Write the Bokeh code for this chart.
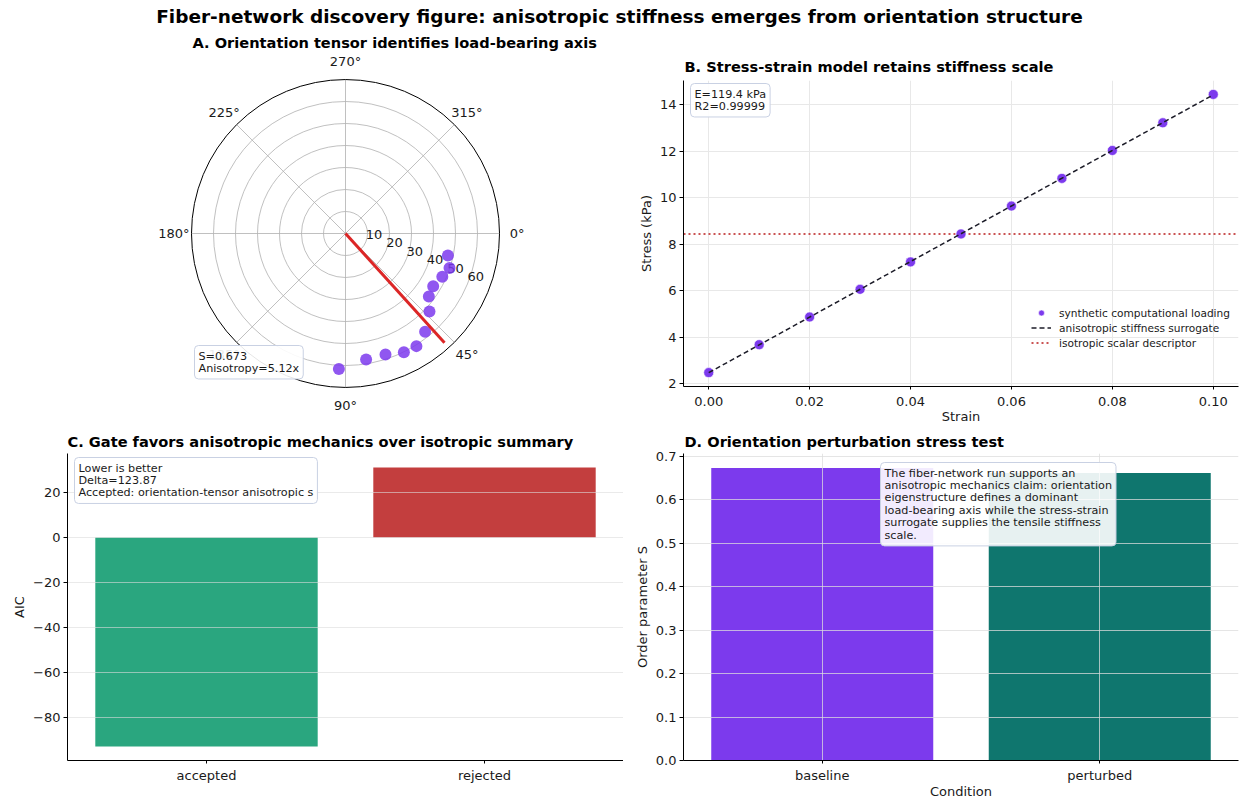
import numpy as np
from bokeh.plotting import figure
from bokeh.models import (Range1d, FixedTicker, Label, Legend, LegendItem, Div,
                          FactorRange, NumeralTickFormatter, CustomJSTickFormatter)
from bokeh.layouts import column, row
from bokeh.embed import file_html
from bokeh.resources import INLINE
from bokeh.core.properties import value

FONT = "DejaVu Sans"

# ---------------- data ----------------
# Panel A: orientation samples (theta in degrees, clockwise from east) and radii
polar_theta_deg = [12.1, 18.3, 24.1, 31.0, 37.1, 42.9, 51.0, 57.8, 63.8, 71.7, 80.7, 92.8]
polar_r = [47.6, 49.8, 48.2, 46.5, 47.5, 52.1, 57.5, 60.5, 60.1, 57.9, 58.0, 61.7]
principal_angle_deg = 47.8
principal_length = 67.0
r_ticks = [10, 20, 30, 40, 50, 60]
r_max = 70
theta_ticks = [0, 45, 90, 135, 180, 225, 270, 315]
order_S = 0.673
anisotropy_ratio = 5.12

# Panel B: stress-strain
strain = [0.00, 0.01, 0.02, 0.03, 0.04, 0.05, 0.06, 0.07, 0.08, 0.09, 0.10]
stress = [2.49, 3.69, 4.88, 6.07, 7.25, 8.45, 9.65, 10.84, 12.04, 13.23, 14.45]
E_kpa = 119.4
r2_value = 0.99999
iso_level = 8.45
stress_ticks = [2, 4, 6, 8, 10, 12, 14]
strain_ticks = [0.00, 0.02, 0.04, 0.06, 0.08, 0.10]

# Panel C: AIC gate
gate_models = ["accepted", "rejected"]
gate_aic = [-92.75, 31.12]
gate_colors = ["#059669", "#b91c1c"]
aic_delta = 123.87
aic_ticks = [-80, -60, -40, -20, 0, 20]

# Panel D: perturbation
conditions = ["baseline", "perturbed"]
order_param = [0.673, 0.662]
cond_colors = ["#7c3aed", "#0f766e"]
s_ticks = [0.0, 0.1, 0.2, 0.3, 0.4, 0.5, 0.6, 0.7]

TICK_PX = "13px"
TITLE_PX = "14.6px"
NOTE_PX = "11.2px"
LEGEND_PX = "10.6px"


def style_axes(p):
    for ax in list(p.xaxis) + list(p.yaxis):
        ax.axis_line_color = "black"
        ax.axis_line_width = 1
        ax.major_tick_line_color = "black"
        ax.major_tick_out = 4
        ax.major_tick_in = 0
        ax.minor_tick_line_color = None
        ax.major_label_text_font = FONT
        ax.major_label_text_font_size = TICK_PX
        ax.major_label_text_color = "#1a1a1a"
        ax.axis_label_text_font = FONT
        ax.axis_label_text_font_size = TICK_PX
        ax.axis_label_text_font_style = "normal"
        ax.axis_label_text_color = "#1a1a1a"
        ax.major_label_standoff = 3
        ax.axis_label_standoff = 3
    for ax in p.xaxis:
        ax.major_tick_out = 3
        ax.major_label_standoff = 4
        ax.axis_label_standoff = -2
    p.outline_line_color = None


def style_title(p, text, offset=0, standoff=5):
    p.title.text = text
    p.title.align = "left"
    p.title.offset = offset
    p.title.text_font = FONT
    p.title.text_font_size = TITLE_PX
    p.title.text_font_style = "bold"
    p.title.text_color = "black"
    p.title.standoff = standoff


def note(x, y, text):
    return Label(x=x, y=y, x_units="screen", y_units="screen", text=text,
                 anchor="top_left", text_font=FONT, text_font_size=NOTE_PX,
                 text_line_height=0.96, text_color="#1a1a1a", padding=4,
                 background_fill_color="white", background_fill_alpha=0.9,
                 border_line_color="#c9d1e3", border_line_width=1, border_radius=4)


TITLE_H = 28
ROW1_H = 398
ROW2_H = 375

# ---------------- Panel A (polar) ----------------
WA = 623
topA = 22
frameA_h = ROW1_H - topA
px_per_unit = 154.0 / r_max
cx_px, cy_px = 345, 183  # centre inside the frame (from left / from top)
pA = figure(width=WA, height=ROW1_H, output_backend="svg", toolbar_location=None,
            x_range=Range1d(-cx_px / px_per_unit, (WA - cx_px) / px_per_unit),
            y_range=Range1d(-(frameA_h - cy_px) / px_per_unit, cy_px / px_per_unit),
            x_axis_type=None, y_axis_type=None,
            min_border_left=0, min_border_right=0, min_border_top=topA, min_border_bottom=0)
pA.frame_align = False
pA.outline_line_color = None
style_title(pA, "A. Orientation tensor identifies load-bearing axis", offset=192, standoff=0)

rt = np.array(r_ticks, dtype=float)
pA.circle(x=np.zeros_like(rt), y=np.zeros_like(rt), radius=rt, fill_color=None,
          line_color="#b0b0b0", line_width=0.8)
th = np.deg2rad(np.array(theta_ticks, dtype=float))
pA.segment(x0=np.zeros_like(th), y0=np.zeros_like(th),
           x1=r_max * np.cos(th), y1=-r_max * np.sin(th),
           line_color="#b0b0b0", line_width=0.8)
pA.circle(x=[0], y=[0], radius=r_max, fill_color=None, line_color="black", line_width=1)

# angle labels
lab_r = r_max * 1.115
pA.text(x=lab_r * np.cos(th), y=-lab_r * np.sin(th), text=[f"{t}°" for t in theta_ticks],
        text_align="center", text_baseline="middle", text_font=value(FONT),
        text_font_size=TICK_PX, text_color="#1a1a1a")
# radial labels at 22.5 deg
rl = np.deg2rad(22.5)
pA.text(x=rt * np.cos(rl), y=-rt * np.sin(rl), text=[str(v) for v in r_ticks],
        text_align="left", text_baseline="bottom", y_offset=-3, text_font=value(FONT),
        text_font_size=TICK_PX, text_color="#1a1a1a")

pth = np.deg2rad(np.array(polar_theta_deg))
pr = np.array(polar_r)
pA.scatter(x=pr * np.cos(pth), y=-pr * np.sin(pth), size=12, fill_color="#7c3aed",
           fill_alpha=0.85, line_color=None)
pa = np.deg2rad(principal_angle_deg)
pA.line(x=[0, principal_length * np.cos(pa)], y=[0, -principal_length * np.sin(pa)],
        line_color="#dc2626", line_width=3)
pA.add_layout(note(194, 81, f"S={order_S:.3f}\nAnisotropy={anisotropy_ratio:.2f}x"))

# ---------------- Panel B ----------------
sx = np.array(strain)
sy = np.array(stress)
xpad = 0.05 * (sx.max() - sx.min())
ypad = 0.05 * (sy.max() - sy.min())
x_lo, x_hi = sx.min() - xpad, sx.max() + xpad
pB = figure(width=616, height=ROW1_H, output_backend="svg", toolbar_location=None,
            x_range=Range1d(x_lo, x_hi),
            y_range=Range1d(sy.min() - ypad, sy.max() + ypad),
            min_border_left=60, min_border_right=1, min_border_top=52, min_border_bottom=40)
pB.frame_align = False
style_title(pB, "B. Stress-strain model retains stiffness scale", offset=1, standoff=11)
style_axes(pB)
pB.xaxis.major_label_standoff = 7
pB.xaxis.axis_label_standoff = 0
pB.xaxis.ticker = FixedTicker(ticks=strain_ticks)
pB.xaxis.formatter = NumeralTickFormatter(format="0.00")
pB.yaxis.ticker = FixedTicker(ticks=stress_ticks)
pB.xaxis.axis_label = "Strain"
pB.yaxis.axis_label = "Stress (kPa)"
pB.xgrid.grid_line_color = "#e8e8e8"
pB.ygrid.grid_line_color = "#e8e8e8"
pB.xgrid.ticker = FixedTicker(ticks=strain_ticks)
pB.ygrid.ticker = FixedTicker(ticks=stress_ticks)

r_iso = pB.line(x=[x_lo, x_hi], y=[iso_level, iso_level], line_color="#b91c1c",
                line_width=1.5, line_dash="2 3")
r_pts = pB.scatter(sx, sy, size=10, fill_color="#7c3aed", line_color="white", line_width=0.6)
slope, intercept = np.polyfit(sx, sy, 1)
fx = np.array([sx.min(), sx.max()])
r_fit = pB.line(fx, slope * fx + intercept, line_color="#1c1c28", line_width=1.5, line_dash="5 3")
legB = Legend(items=[LegendItem(label="synthetic computational loading", renderers=[r_pts]),
                     LegendItem(label="anisotropic stiffness surrogate", renderers=[r_fit]),
                     LegendItem(label="isotropic scalar descriptor", renderers=[r_iso])],
              location=(348, 36), label_text_font=FONT, label_text_font_size=LEGEND_PX,
              label_text_color="#1a1a1a", glyph_height=15, glyph_width=20, label_height=15,
              label_standoff=8, spacing=0, padding=0, margin=0,
              border_line_color=None, background_fill_alpha=0)
pB.add_layout(legB)
pB.add_layout(note(7, 303, f"E={E_kpa:.1f} kPa\nR2={r2_value:.5f}"))

# ---------------- Panel C ----------------
aic = np.array(gate_aic)
apad = 0.05 * (aic.max() - aic.min())
pC = figure(width=623, height=ROW2_H, output_backend="svg", toolbar_location=None,
            x_range=FactorRange(*gate_models),
            y_range=Range1d(aic.min() - apad, aic.max() + apad),
            min_border_left=67, min_border_right=0, min_border_top=27, min_border_bottom=41)
style_title(pC, "C. Gate favors anisotropic mechanics over isotropic summary", offset=0, standoff=7)
style_axes(pC)
pC.vbar(x=gate_models, top=gate_aic, bottom=0, width=0.8, fill_color=gate_colors,
        fill_alpha=0.85, line_color=None)
pC.xgrid.visible = False
pC.ygrid.grid_line_color = "#dcdcdc"
pC.ygrid.grid_line_alpha = 0.6
pC.ygrid.level = "glyph"
pC.ygrid.ticker = FixedTicker(ticks=aic_ticks)
pC.yaxis.ticker = FixedTicker(ticks=aic_ticks)
pC.yaxis.formatter = CustomJSTickFormatter(code="return tick < 0 ? '\\u2212' + (-tick) : '' + tick;")
pC.yaxis.axis_label = "AIC"
pC.add_layout(note(7, 303, f"Lower is better\nDelta={aic_delta:.2f}\nAccepted: orientation-tensor anisotropic s"))

# ---------------- Panel D ----------------
pD = figure(width=616, height=ROW2_H, output_backend="svg", toolbar_location=None,
            x_range=FactorRange(*conditions),
            y_range=Range1d(0, max(order_param) * 1.05),
            min_border_left=60, min_border_right=1, min_border_top=27, min_border_bottom=41)
style_title(pD, "D. Orientation perturbation stress test", offset=1, standoff=7)
style_axes(pD)
pD.vbar(x=conditions, top=order_param, bottom=0, width=0.8, fill_color=cond_colors,
        line_color=None)
pD.yaxis.ticker = FixedTicker(ticks=s_ticks)
pD.ygrid.ticker = FixedTicker(ticks=s_ticks)
pD.yaxis.formatter = NumeralTickFormatter(format="0.0")
pD.xaxis.axis_label = "Condition"
pD.yaxis.axis_label = "Order parameter S"
for g in (pD.xgrid, pD.ygrid):
    g.grid_line_color = "#dcdcdc"
    g.grid_line_alpha = 0.75
    g.level = "glyph"
pD.add_layout(note(197, 298,
                   "The fiber-network run supports an\n"
                   "anisotropic mechanics claim: orientation\n"
                   "eigenstructure defines a dominant\n"
                   "load-bearing axis while the stress-strain\n"
                   "surrogate supplies the tensile stiffness\n"
                   "scale."))

title = Div(text="Fiber-network discovery figure: anisotropic stiffness emerges from orientation structure",
            width=1239, height=TITLE_H, margin=0,
            styles={"text-align": "center", "font-family": FONT, "font-weight": "bold",
                    "font-size": "18.5px", "color": "black", "width": "1239px",
                    "line-height": "34px", "overflow": "visible"})

layout = column(title, row(pA, pB, spacing=0), row(pC, pD, spacing=0), spacing=0)
open("out.html", "w").write(file_html(layout, INLINE))
